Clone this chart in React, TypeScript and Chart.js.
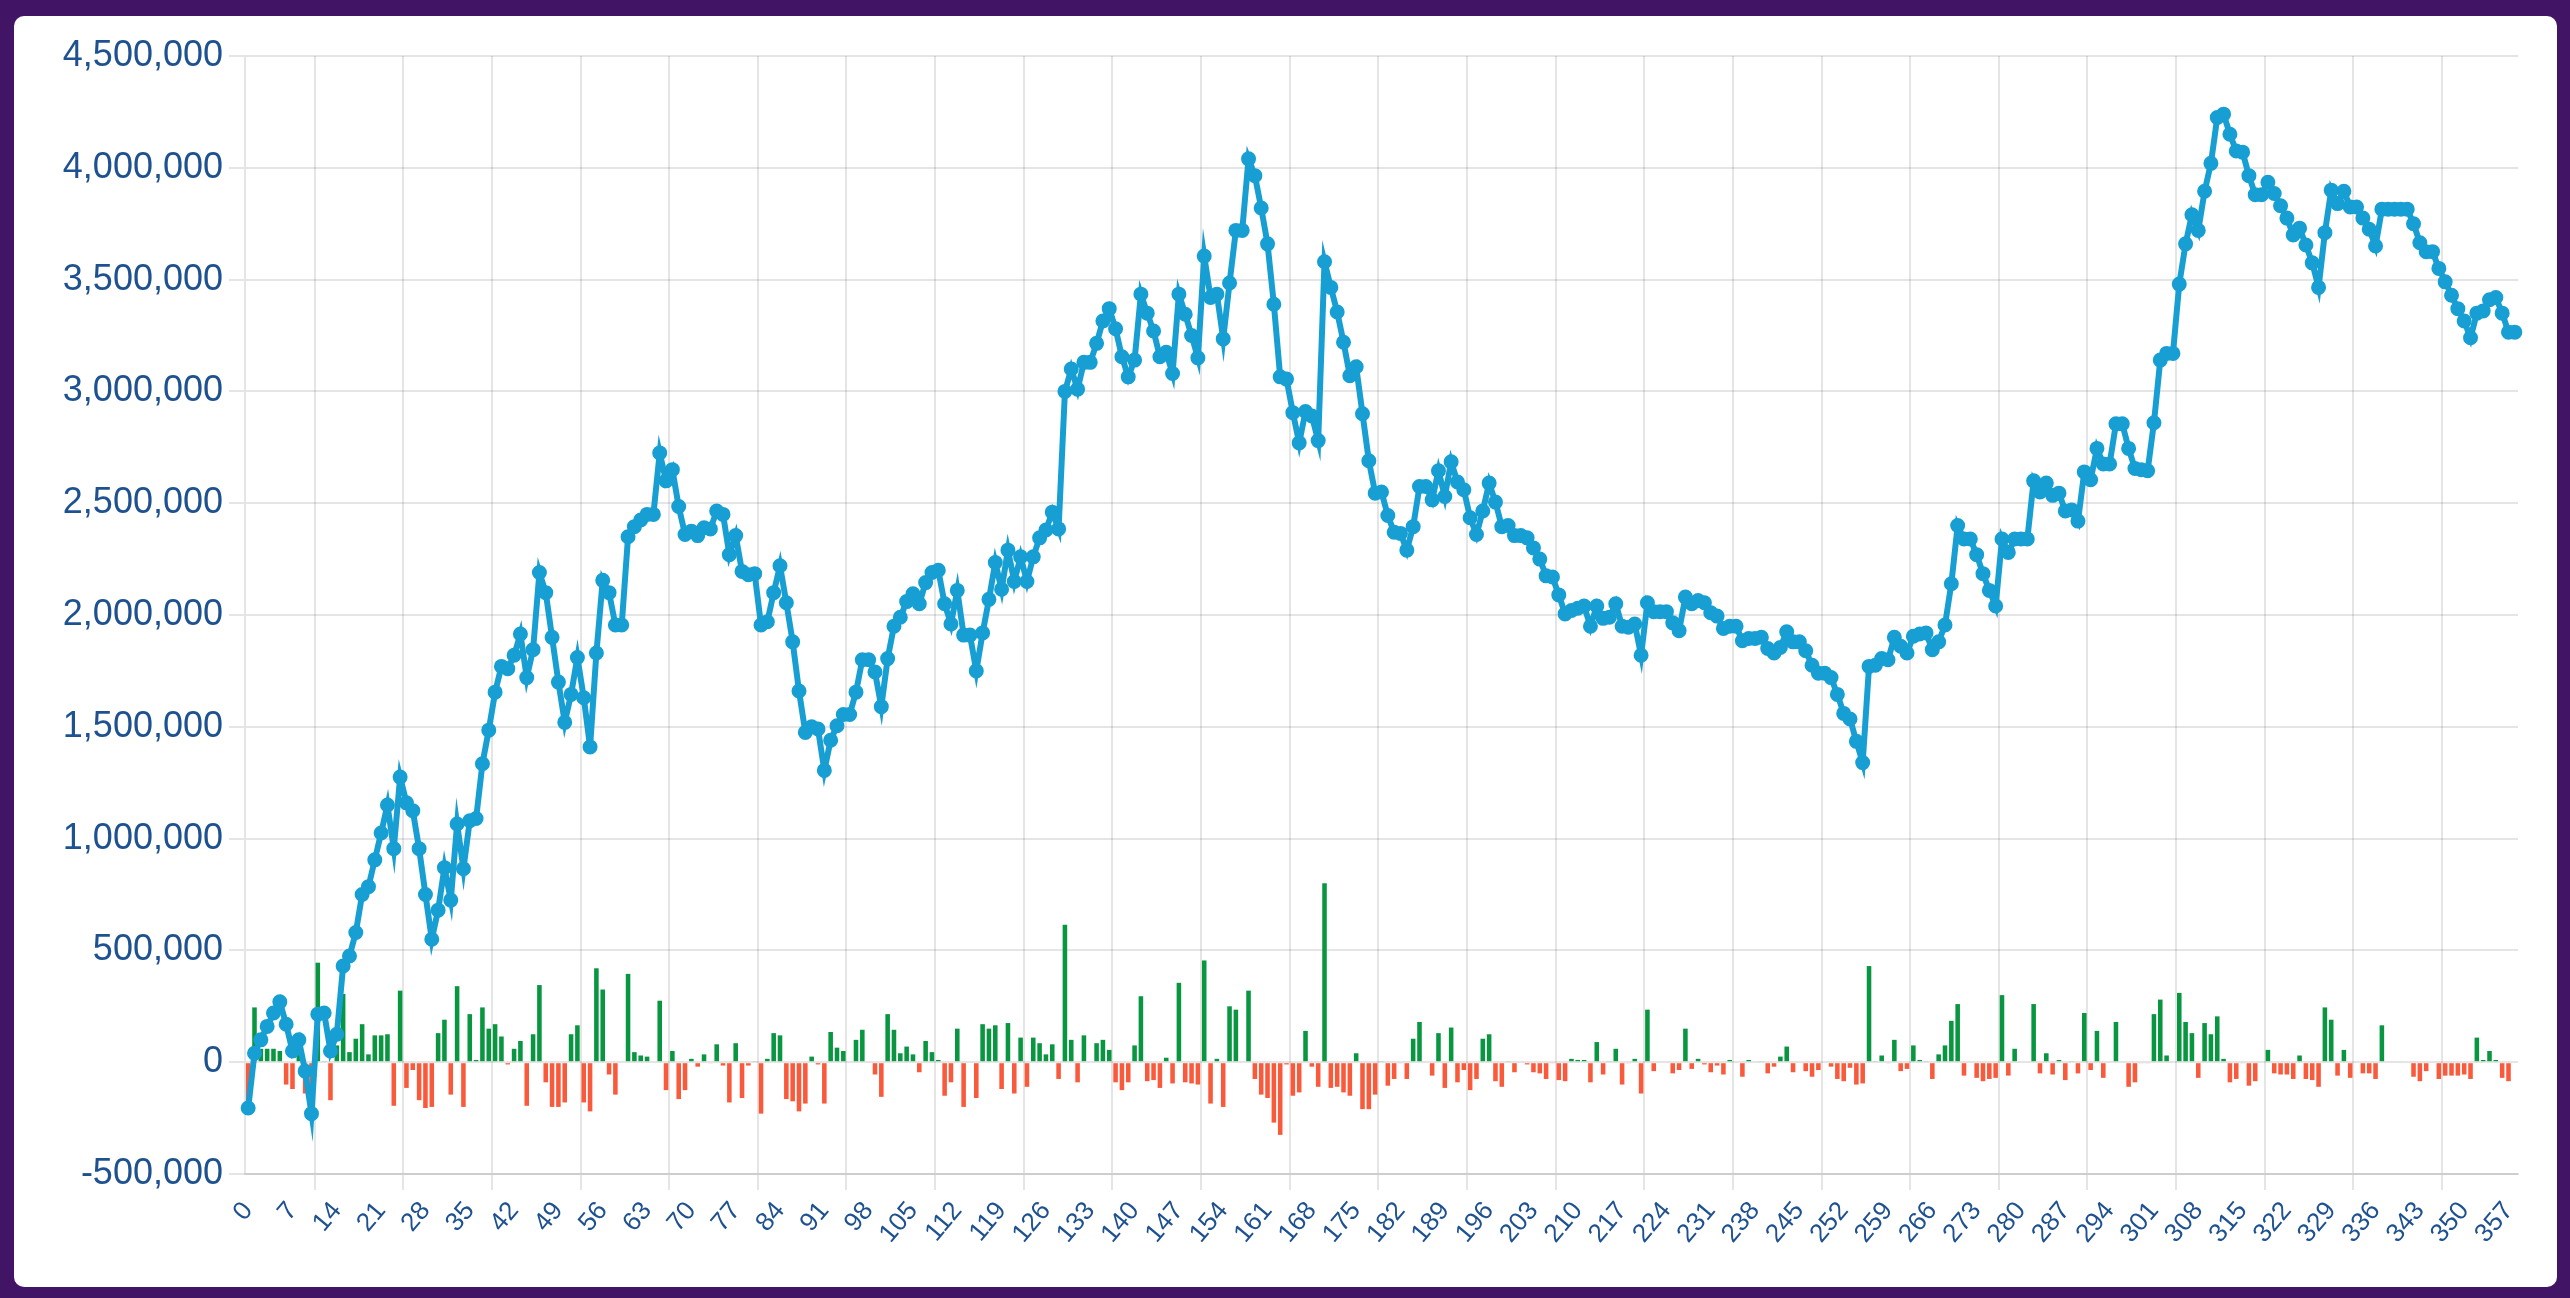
import { Chart, registerables } from 'chart.js';
import { useEffect, useRef } from 'react';

Chart.register(...registerables);

// cumulative profit (line), one value per day
const cumulativePnl: number[] = [
  -205000, 40000, 100000, 160000, 220000, 270000, 170000, 50000, 100000, -40000,
  -230000, 215000, 220000, 50000, 125000, 430000, 475000, 580000, 750000, 785000,
  905000, 1025000, 1150000, 955000, 1275000, 1160000, 1125000, 955000, 750000, 550000,
  680000, 870000, 725000, 1065000, 865000, 1080000, 1090000, 1335000, 1485000, 1655000,
  1770000, 1760000, 1820000, 1915000, 1720000, 1845000, 2190000, 2100000, 1900000, 1700000,
  1520000, 1645000, 1810000, 1630000, 1410000, 1830000, 2155000, 2100000, 1955000, 1955000,
  2350000, 2395000, 2425000, 2450000, 2450000, 2725000, 2600000, 2650000, 2485000, 2360000,
  2375000, 2355000, 2390000, 2385000, 2465000, 2450000, 2270000, 2355000, 2195000, 2180000,
  2185000, 1955000, 1970000, 2100000, 2220000, 2055000, 1880000, 1660000, 1475000, 1500000,
  1490000, 1305000, 1440000, 1505000, 1555000, 1555000, 1655000, 1800000, 1800000, 1745000,
  1590000, 1805000, 1950000, 1990000, 2060000, 2095000, 2050000, 2145000, 2190000, 2200000,
  2050000, 1960000, 2110000, 1910000, 1910000, 1750000, 1920000, 2070000, 2235000, 2115000,
  2290000, 2150000, 2260000, 2150000, 2260000, 2345000, 2380000, 2460000, 2385000, 3000000,
  3100000, 3010000, 3130000, 3130000, 3215000, 3315000, 3370000, 3280000, 3155000, 3065000,
  3140000, 3435000, 3350000, 3270000, 3155000, 3175000, 3080000, 3435000, 3345000, 3250000,
  3150000, 3605000, 3420000, 3435000, 3235000, 3485000, 3720000, 3720000, 4040000, 3965000,
  3820000, 3660000, 3390000, 3065000, 3055000, 2905000, 2770000, 2910000, 2890000, 2780000,
  3580000, 3465000, 3355000, 3220000, 3070000, 3110000, 2900000, 2690000, 2545000, 2550000,
  2445000, 2370000, 2365000, 2290000, 2395000, 2575000, 2575000, 2515000, 2645000, 2530000,
  2685000, 2595000, 2560000, 2435000, 2360000, 2465000, 2590000, 2505000, 2395000, 2400000,
  2355000, 2355000, 2345000, 2300000, 2250000, 2175000, 2170000, 2090000, 2005000, 2020000,
  2030000, 2040000, 1950000, 2040000, 1985000, 1990000, 2050000, 1950000, 1945000, 1960000,
  1820000, 2055000, 2015000, 2015000, 2015000, 1965000, 1930000, 2080000, 2050000, 2065000,
  2055000, 2010000, 1995000, 1940000, 1950000, 1950000, 1885000, 1895000, 1895000, 1900000,
  1850000, 1830000, 1855000, 1925000, 1880000, 1880000, 1840000, 1775000, 1740000, 1740000,
  1720000, 1645000, 1560000, 1535000, 1435000, 1340000, 1770000, 1775000, 1805000, 1800000,
  1900000, 1860000, 1830000, 1905000, 1915000, 1920000, 1845000, 1880000, 1955000, 2140000,
  2400000, 2340000, 2340000, 2270000, 2185000, 2110000, 2040000, 2340000, 2280000, 2340000,
  2340000, 2340000, 2600000, 2550000, 2590000, 2535000, 2545000, 2465000, 2470000, 2420000,
  2640000, 2605000, 2745000, 2675000, 2675000, 2855000, 2855000, 2745000, 2655000, 2650000,
  2645000, 2860000, 3140000, 3170000, 3170000, 3480000, 3660000, 3790000, 3720000, 3895000,
  4020000, 4225000, 4240000, 4150000, 4075000, 4070000, 3965000, 3880000, 3880000, 3935000,
  3885000, 3830000, 3775000, 3700000, 3730000, 3655000, 3575000, 3465000, 3710000, 3900000,
  3840000, 3895000, 3825000, 3825000, 3775000, 3725000, 3650000, 3815000, 3815000, 3815000,
  3815000, 3815000, 3750000, 3665000, 3625000, 3625000, 3550000, 3490000, 3430000, 3370000,
  3315000, 3240000, 3350000, 3360000, 3410000, 3420000, 3350000, 3265000, 3265000,
];

// daily profit / loss (bars)
const dailyPnl: number[] = [
  -205000, 245000, 60000, 60000, 60000, 50000, -100000, -120000, 50000, -140000,
  -190000, 445000, 5000, -170000, 75000, 305000, 45000, 105000, 170000, 35000,
  120000, 120000, 125000, -195000, 320000, -115000, -35000, -170000, -205000, -200000,
  130000, 190000, -145000, 340000, -200000, 215000, 10000, 245000, 150000, 170000,
  115000, -10000, 60000, 95000, -195000, 125000, 345000, -90000, -200000, -200000,
  -180000, 125000, 165000, -180000, -220000, 420000, 325000, -55000, -145000, 0,
  395000, 45000, 30000, 25000, 0, 275000, -125000, 50000, -165000, -125000,
  15000, -20000, 35000, -5000, 80000, -15000, -180000, 85000, -160000, -15000,
  5000, -230000, 15000, 130000, 120000, -165000, -175000, -220000, -185000, 25000,
  -10000, -185000, 135000, 65000, 50000, 0, 100000, 145000, 0, -55000,
  -155000, 215000, 145000, 40000, 70000, 35000, -45000, 95000, 45000, 10000,
  -150000, -90000, 150000, -200000, 0, -160000, 170000, 150000, 165000, -120000,
  175000, -140000, 110000, -110000, 110000, 85000, 35000, 80000, -75000, 615000,
  100000, -90000, 120000, 0, 85000, 100000, 55000, -90000, -125000, -90000,
  75000, 295000, -85000, -80000, -115000, 20000, -95000, 355000, -90000, -95000,
  -100000, 455000, -185000, 15000, -200000, 250000, 235000, 0, 320000, -75000,
  -145000, -160000, -270000, -325000, -10000, -150000, -135000, 140000, -20000, -110000,
  800000, -115000, -110000, -135000, -150000, 40000, -210000, -210000, -145000, 5000,
  -105000, -75000, -5000, -75000, 105000, 180000, 0, -60000, 130000, -115000,
  155000, -90000, -35000, -125000, -75000, 105000, 125000, -85000, -110000, 5000,
  -45000, 0, -10000, -45000, -50000, -75000, -5000, -80000, -85000, 15000,
  10000, 10000, -90000, 90000, -55000, 5000, 60000, -100000, -5000, 15000,
  -140000, 235000, -40000, 0, 0, -50000, -35000, 150000, -30000, 15000,
  -10000, -45000, -15000, -55000, 10000, 0, -65000, 10000, 0, 5000,
  -50000, -20000, 25000, 70000, -45000, 0, -40000, -65000, -35000, 0,
  -20000, -75000, -85000, -25000, -100000, -95000, 430000, 5000, 30000, -5000,
  100000, -40000, -30000, 75000, 10000, 5000, -75000, 35000, 75000, 185000,
  260000, -60000, 0, -70000, -85000, -75000, -70000, 300000, -60000, 60000,
  0, 0, 260000, -50000, 40000, -55000, 10000, -80000, 5000, -50000,
  220000, -35000, 140000, -70000, 0, 180000, 0, -110000, -90000, -5000,
  -5000, 215000, 280000, 30000, 0, 310000, 180000, 130000, -70000, 175000,
  125000, 205000, 15000, -90000, -75000, -5000, -105000, -85000, 0, 55000,
  -50000, -55000, -55000, -75000, 30000, -75000, -80000, -110000, 245000, 190000,
  -60000, 55000, -70000, 0, -50000, -50000, -75000, 165000, 0, 0,
  0, 0, -65000, -85000, -40000, 0, -75000, -60000, -60000, -60000,
  -55000, -75000, 110000, 10000, 50000, 10000, -70000, -85000, 0,
];

// day index labels 0 .. 358
const dayLabels: string[] = cumulativePnl.map((_, i) => String(i));

const Y_MIN = -500000;
const Y_MAX = 4500000;
const Y_STEP = 500000;

const LINE_COLOR = '#179fd4';
const GAIN_COLOR = '#089640';
const LOSS_COLOR = '#fa5a3c';
const TICK_COLOR = '#1e5190';
const FONT = '"Liberation Sans", Arial, sans-serif';

const PnlChart: React.FC = () => {
  const chartRef = useRef<HTMLCanvasElement | null>(null);

  useEffect(() => {
    if (!chartRef.current) return;
    const ctx = chartRef.current.getContext('2d');
    if (!ctx) return;

    const chartInstance = new Chart(ctx, {
      type: 'bar',
      data: {
        labels: dayLabels,
        datasets: [
          {
            type: 'line',
            label: 'cumulative',
            data: cumulativePnl,
            borderColor: LINE_COLOR,
            backgroundColor: LINE_COLOR,
            borderWidth: 6,
            pointRadius: 6.5,
            pointBorderWidth: 2,
            pointBackgroundColor: LINE_COLOR,
            pointBorderColor: LINE_COLOR,
            tension: 0,
            order: 0,
          },
          {
            type: 'bar',
            label: 'daily',
            data: dailyPnl,
            backgroundColor: dailyPnl.map((v) => (v >= 0 ? GAIN_COLOR : LOSS_COLOR)),
            order: 1,
          },
        ],
      },
      options: {
        animation: false,
        responsive: true,
        maintainAspectRatio: false,
        layout: { padding: { top: 40, right: 39, bottom: 0, left: 47 } },
        plugins: {
          legend: { display: false },
          tooltip: { enabled: false },
        },
        scales: {
          x: {
            offset: true,
            grid: { lineWidth: 2, tickLength: 16, offset: true },
            border: { width: 2 },
            ticks: {
              color: TICK_COLOR,
              font: { family: FONT, size: 26 },
              minRotation: 50,
              maxRotation: 50,
              autoSkip: true,
              autoSkipPadding: 0,
              maxTicksLimit: 52,
              padding: 6,
            },
            afterFit: (scale) => {
              scale.height = 113;
            },
          },
          y: {
            min: Y_MIN,
            max: Y_MAX,
            grid: { lineWidth: 2, tickLength: 16 },
            border: { width: 2 },
            ticks: {
              stepSize: Y_STEP,
              color: TICK_COLOR,
              font: { family: FONT, size: 36 },
              padding: 6,
              callback: (value) => Number(value).toLocaleString('en-US'),
            },
            afterFit: (scale) => {
              scale.width = 184;
            },
          },
        },
      },
    });

    return () => {
      chartInstance.destroy();
    };
  }, []);

  return <canvas ref={chartRef}></canvas>;
};

const App: React.FC = () => {
  return (
    <div style={{ position: 'fixed', inset: 0, background: '#411466' }}>
      <div
        style={{
          position: 'absolute',
          left: 14,
          top: 16,
          width: 2543,
          height: 1271,
          background: '#ffffff',
          borderRadius: 10,
        }}
      >
        <PnlChart />
      </div>
    </div>
  );
};

export default App;
